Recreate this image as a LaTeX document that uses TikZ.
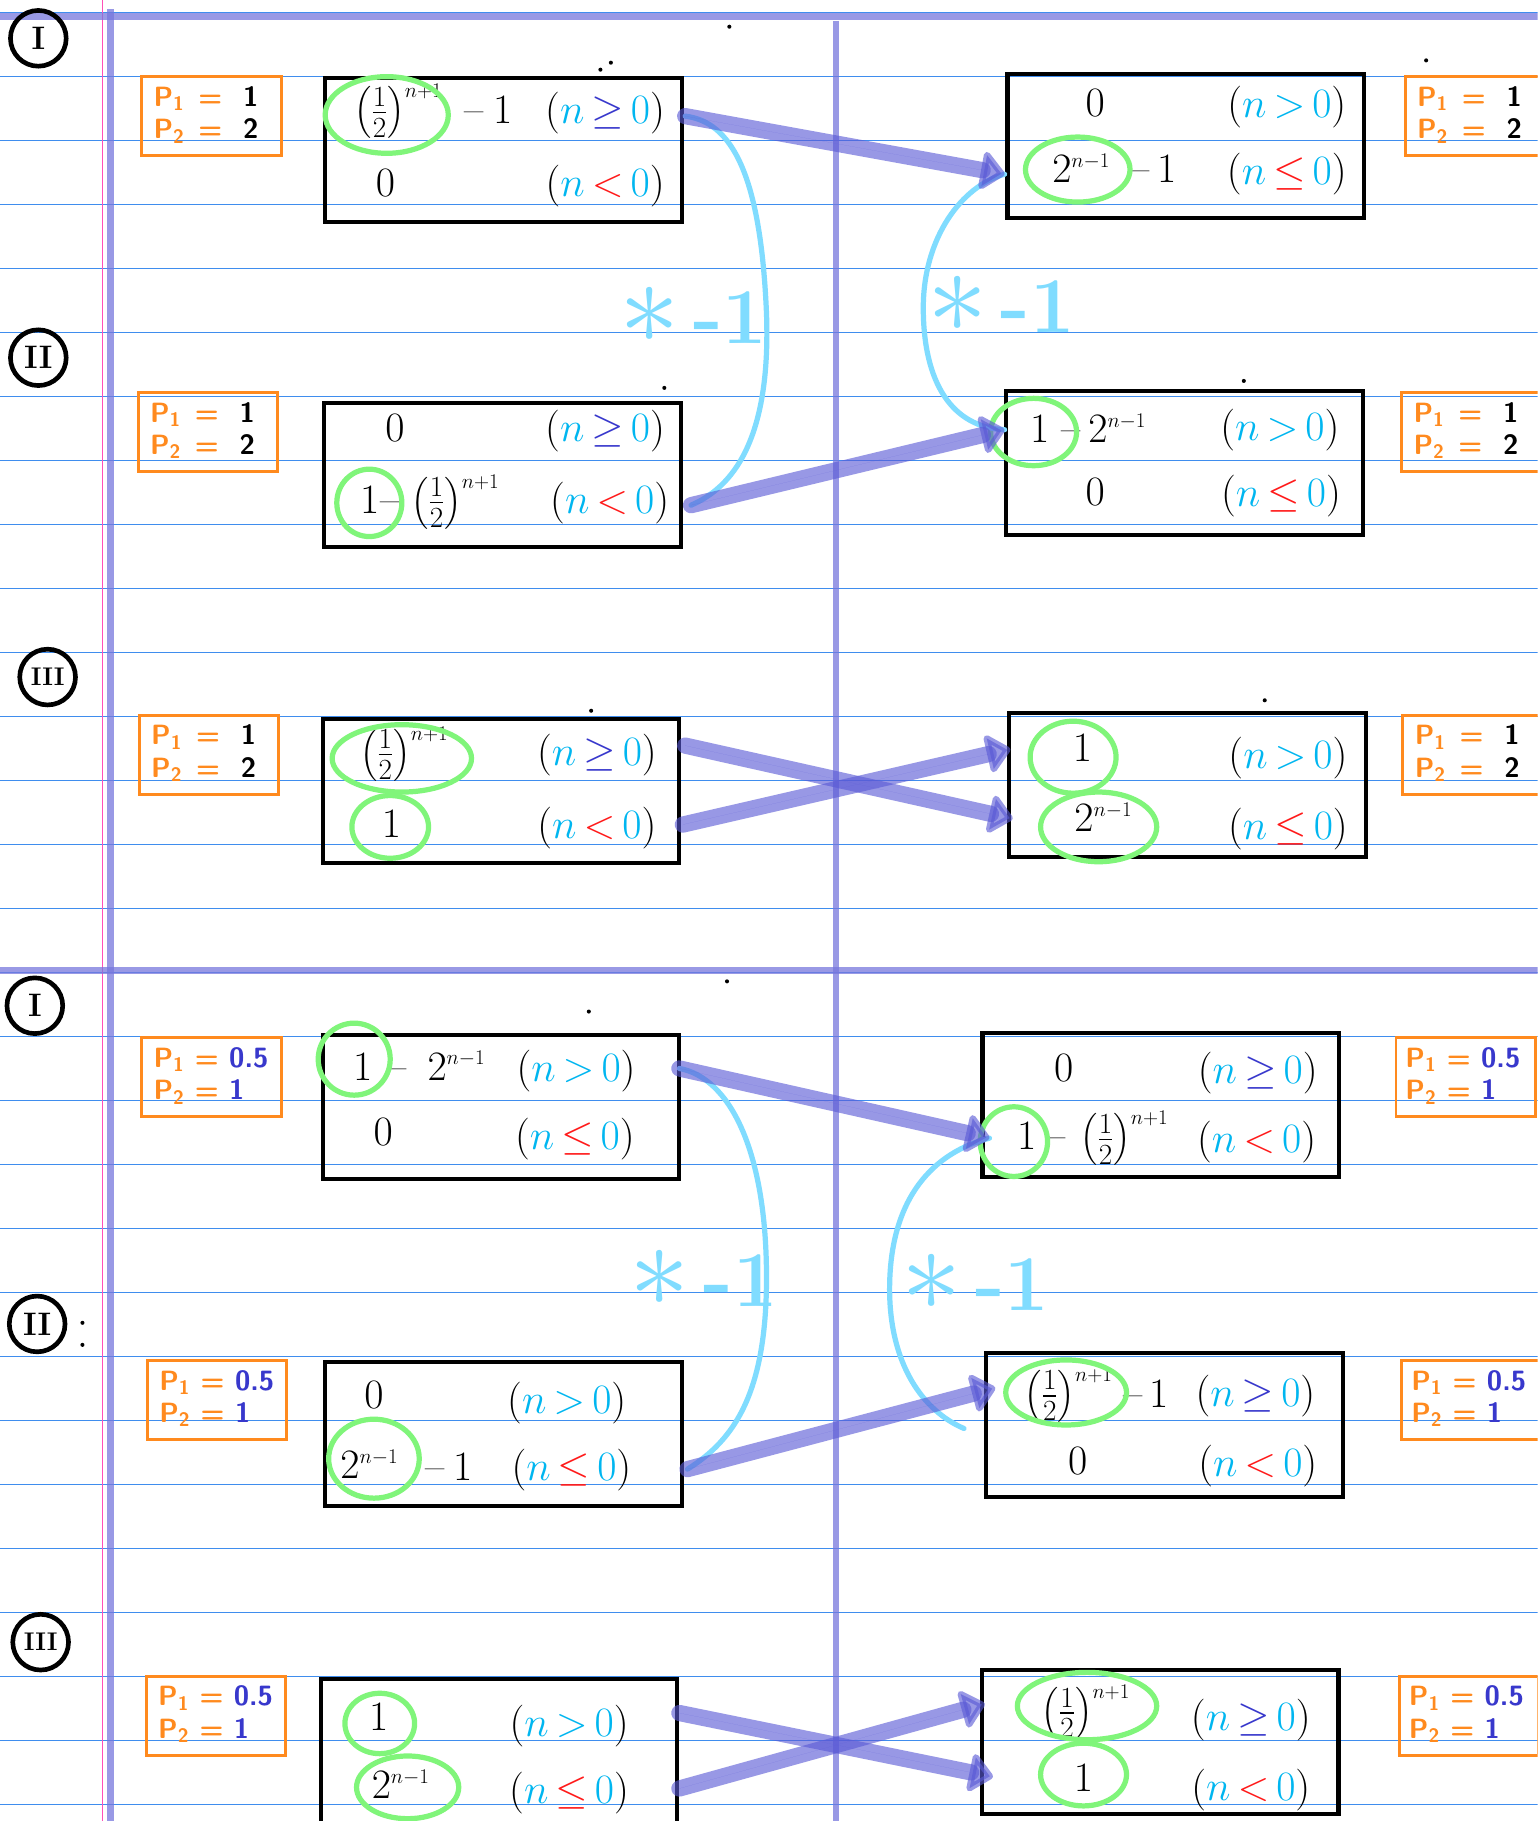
\RequirePackage{fix-cm}
\documentclass[tikz,border=0pt]{standalone}
\usepackage{amsmath}
\usepackage{fontspec}
\usetikzlibrary{arrows.meta}
\definecolor{rulec}{HTML}{3F8DEE}
\definecolor{margc}{HTML}{7777DD}
\definecolor{pinkc}{HTML}{FF4FB8}
\definecolor{org}{HTML}{FF8A1E}
\definecolor{grn}{HTML}{80F57A}
\definecolor{cyn}{HTML}{00B6F0}
\definecolor{lcyn}{HTML}{80DCFF}
\definecolor{dblue}{HTML}{3838CC}
\definecolor{redc}{HTML}{FF1A1A}
\definecolor{arrc}{HTML}{5A5AD6}
\newcommand{\Half}{$\bigl(\tfrac{1}{2}\bigr)^{\scriptscriptstyle n+1}$}
\newcommand{\Tpow}{$2^{\scriptscriptstyle n-1}$}
\newcommand{\CondGE}{$\thickmuskip=3mu\relax(\textcolor{cyn}{n}\mathrel{\textcolor{dblue}{\geq}}\textcolor{cyn}{0})$}
\newcommand{\CondGT}{$\thickmuskip=3mu\relax(\textcolor{cyn}{n}\mathrel{\textcolor{cyn}{>}}\textcolor{cyn}{0})$}
\newcommand{\CondLT}{$\thickmuskip=3mu\relax(\textcolor{cyn}{n}\mathrel{\textcolor{redc}{<}}\textcolor{cyn}{0})$}
\newcommand{\CondLE}{$\thickmuskip=3mu\relax(\textcolor{cyn}{n}\mathrel{\textcolor{redc}{\leq}}\textcolor{cyn}{0})$}
\newcommand{\Pq}[1]{P\textsubscript{#1}}
\newcommand{\PTop}[2]{\begin{tabular}{@{}l@{\hspace{12pt}}c@{\hspace{18pt}}l@{}}\Pq{1}&=&\textcolor{black}{#1}\\[1pt]\Pq{2}&=&\textcolor{black}{#2}\end{tabular}}
\newcommand{\PBot}[2]{\begin{tabular}{@{}l@{\hspace{9pt}}c@{\hspace{9pt}}l@{}}\Pq{1}&=&\textcolor{dblue}{#1}\\[1pt]\Pq{2}&=&\textcolor{dblue}{#2}\end{tabular}}
\newcommand{\StarLbl}{{\fontsize{104}{104}\selectfont$\ast$}\,-1}
\begin{document}
\begin{tikzpicture}[x=1pt,y=-1pt,
  blk/.style={draw=black, line width=3.5pt, rectangle, inner sep=0pt, outer sep=0pt, minimum width=307pt, minimum height=124pt},
  obox/.style={draw=org, line width=2.5pt, rectangle, inner sep=0pt, minimum width=120pt, minimum height=68pt},
  otext/.style={text=org, font=\fontsize{24}{27}\selectfont\sffamily\bfseries, anchor=west, inner sep=0pt},
  row/.style={font=\fontsize{36}{40}\selectfont, inner sep=0pt, text height=26pt, text depth=8pt},
  grnc/.style={draw=grn, line width=4.5pt},
  bigarr/.style={draw=arrc, fill=arrc, opacity=.62, line width=14pt, line cap=round, -{Triangle[round,length=22pt,width=38pt]}},
  cyc/.style={draw=lcyn, line width=4.5pt, line cap=round},
  starlbl/.style={text=lcyn, font=\fontsize{68}{70}\selectfont\bfseries, inner sep=0pt},
  rom/.style={circle, draw=black, line width=4pt, minimum size=48pt, inner sep=0pt, font=\fontsize{28}{28}\selectfont\bfseries},
  dotc/.style={circle, fill=black, inner sep=0pt, minimum size=3.5pt}]
\useasboundingbox (0,0) rectangle (1324,1568);
\clip (0,0) rectangle (1324,1568);
\fill[white] (0,0) rectangle (1324,1568);
% ruled paper
\draw[rulec, line width=1.2pt] (0,11) -- (1324,11);
\foreach \i in {0,...,27} {\draw[rulec, line width=1.2pt] (0,{66+55.1*\i}) -- (1324,{66+55.1*\i});}
\draw[pinkc, line width=1pt] (88,0) -- (88,1568);
\draw[margc, opacity=.75, line width=6pt] (0,14) -- (1324,14);
\draw[margc, opacity=.75, line width=6pt] (0,836) -- (1324,836);
\draw[margc, opacity=.75, line width=6pt] (95,8) -- (95,1568);
\draw[margc, opacity=.75, line width=5pt] (720,18) -- (720,1568);
% roman numerals
\node[rom] (rI1) at (33,33) {I};
\node[rom] (rII1) at (33,308) {II};
\node[rom, font=\fontsize{22}{22}\selectfont\bfseries] (rIII1) at (41,583) {III};
\node[rom] (rI2) at (30,866) {I};
\node[rom] (rII2) at (32,1140) {II};
\node[rom, font=\fontsize{22}{22}\selectfont\bfseries] (rIII2) at (35,1414) {III};
% stray dots
\node[dotc] (d1) at (628,23) {};
\node[dotc] (d2) at (517,60) {};
\node[dotc] (d3) at (526,54) {};
\node[dotc] (d4) at (1228,52) {};
\node[dotc] (d5) at (572,334) {};
\node[dotc] (d6) at (1071,328) {};
\node[dotc] (d7) at (509,612) {};
\node[dotc] (d8) at (1089,603) {};
\node[dotc] (d9) at (626,845) {};
\node[dotc] (d10) at (507,871) {};
\node[dotc] (d11) at (71,1139) {};
\node[dotc] (d12) at (71,1158) {};
% orange parameter boxes
\node[obox] (oL1) at (182,100) {};
\node[otext] (tL1) at (132,100) {\PTop{1}{2}};
\node[obox] (oR1) at (1270,100) {};
\node[otext] (tR1) at (1220,100) {\PTop{1}{2}};
\node[obox] (oL2) at (179,372) {};
\node[otext] (tL2) at (129,372) {\PTop{1}{2}};
\node[obox] (oR2) at (1267,372) {};
\node[otext] (tR2) at (1217,372) {\PTop{1}{2}};
\node[obox] (oL3) at (180,650) {};
\node[otext] (tL3) at (130,650) {\PTop{1}{2}};
\node[obox] (oR3) at (1268,650) {};
\node[otext] (tR3) at (1218,650) {\PTop{1}{2}};
\node[obox] (oL4) at (182,927.5) {};
\node[otext] (tL4) at (132,927.5) {\PBot{0.5}{1}};
\node[obox] (oR4) at (1262,927.5) {};
\node[otext] (tR4) at (1210,927.5) {\PBot{0.5}{1}};
\node[obox] (oL5) at (187,1205.5) {};
\node[otext] (tL5) at (137,1205.5) {\PBot{0.5}{1}};
\node[obox] (oR5) at (1267,1205.5) {};
\node[otext] (tR5) at (1215,1205.5) {\PBot{0.5}{1}};
\node[obox] (oL6) at (186,1477.5) {};
\node[otext] (tL6) at (136,1477.5) {\PBot{0.5}{1}};
\node[obox] (oR6) at (1265,1477.5) {};
\node[otext] (tR6) at (1213,1477.5) {\PBot{0.5}{1}};
% black boxes
\node[blk] (L1) at (433.5,129) {};
\node[blk] (R1) at (1021,126) {};
\node[blk] (L2) at (432.5,409) {};
\node[blk] (R2) at (1020,399) {};
\node[blk] (L3) at (431.5,681) {};
\node[blk] (R3) at (1022.5,676) {};
\node[blk] (L4) at (431.5,953) {};
\node[blk] (R4) at (999.5,951.5) {};
\node[blk] (L5) at (433.5,1235) {};
\node[blk] (R5) at (1002.5,1227) {};
\node[blk] (L6) at (429.5,1508) {};
\node[blk] (R6) at (999,1500) {};
% ---- rows: box L1
\node[row] (L1a) at (343,97) {\Half};
\node[row] (L1m) at (408,97) {\textendash};
\node[row] (L1o) at (433,97) {1};
\node[row] (L1b) at (521,97) {\CondGE};
\node[row] (L1c) at (332,160) {$0$};
\node[row] (L1d) at (521,160) {\CondLT};
% box R1
\node[row] (R1a) at (943,91) {$0$};
\node[row] (R1b) at (1108,92) {\CondGT};
\node[row] (R1c) at (931,148) {\Tpow};
\node[row] (R1m) at (982,148) {\textendash};
\node[row] (R1o) at (1005,148) {1};
\node[row] (R1d) at (1108,150) {\CondLE};
% box L2
\node[row] (L2a) at (340,371) {$0$};
\node[row] (L2b) at (521,371) {\CondGE};
\node[row] (L2o) at (319,433) {1};
\node[row] (L2m) at (336,433) {\textendash};
\node[row] (L2c) at (392,433) {\Half};
\node[row] (L2d) at (525,433) {\CondLT};
% box R2
\node[row] (R2o) at (896,372) {1};
\node[row] (R2m) at (922,372) {\textendash};
\node[row] (R2a) at (962,372) {\Tpow};
\node[row] (R2b) at (1102,370) {\CondGT};
\node[row] (R2c) at (943,426) {$0$};
\node[row] (R2d) at (1103,427) {\CondLE};
% box L3
\node[row] (L3a) at (348,650) {\Half};
\node[row] (L3b) at (514,650) {\CondGE};
\node[row] (L3c) at (337,712) {$1$};
\node[row] (L3d) at (514,713) {\CondLT};
% box R3
\node[row] (R3a) at (932,647) {$1$};
\node[row] (R3b) at (1109,653) {\CondGT};
\node[row] (R3c) at (950,707) {\Tpow};
\node[row] (R3d) at (1109,714) {\CondLE};
% box L4
\node[row] (L4o) at (313,921) {1};
\node[row] (L4m) at (342,921) {\textendash};
\node[row] (L4a) at (393,921) {\Tpow};
\node[row] (L4b) at (496,922) {\CondGT};
\node[row] (L4c) at (330,977) {$0$};
\node[row] (L4d) at (495,981) {\CondLE};
% box R4
\node[row] (R4a) at (916,922) {$0$};
\node[row] (R4b) at (1083,924) {\CondGE};
\node[row] (R4o) at (884,981) {1};
\node[row] (R4m) at (909,981) {\textendash};
\node[row] (R4c) at (968,981) {\Half};
\node[row] (R4d) at (1082,983) {\CondLT};
% box L5
\node[row] (L5a) at (322,1204) {$0$};
\node[row] (L5b) at (488,1208) {\CondGT};
\node[row] (L5c) at (318,1264) {\Tpow};
\node[row] (L5m) at (375,1266) {\textendash};
\node[row] (L5o) at (399,1266) {1};
\node[row] (L5d) at (492,1266) {\CondLE};
% box R5
\node[row] (R5a) at (920,1202) {\Half};
\node[row] (R5m) at (976,1203) {\textendash};
\node[row] (R5o) at (998,1203) {1};
\node[row] (R5b) at (1081,1202) {\CondGE};
\node[row] (R5c) at (928,1261) {$0$};
\node[row] (R5d) at (1083,1262) {\CondLT};
% box L6
\node[row] (L6a) at (326,1481) {$1$};
\node[row] (L6b) at (490,1486) {\CondGT};
\node[row] (L6c) at (345,1540) {\Tpow};
\node[row] (L6d) at (490,1544) {\CondLE};
% box R6
\node[row] (R6a) at (935,1475) {\Half};
\node[row] (R6b) at (1077,1481) {\CondGE};
\node[row] (R6c) at (933,1534) {$1$};
\node[row] (R6d) at (1077,1541) {\CondLT};
% green marks
\draw[grnc] (333,99) ellipse [x radius=53, y radius=33];
\draw[grnc] (928,146) ellipse [x radius=45, y radius=28];
\draw[grnc] (318,433) ellipse [x radius=28, y radius=29];
\draw[grnc] (890,372) ellipse [x radius=37, y radius=29];
\draw[grnc] (346,653) ellipse [x radius=60, y radius=29];
\draw[grnc] (336,712) ellipse [x radius=33, y radius=27];
\draw[grnc] (924,652) ellipse [x radius=37, y radius=31];
\draw[grnc] (946,712) ellipse [x radius=50, y radius=30];
\draw[grnc] (305,912) ellipse [x radius=31, y radius=31];
\draw[grnc] (873,983) ellipse [x radius=29, y radius=30];
\draw[grnc] (322,1256) ellipse [x radius=39, y radius=34];
\draw[grnc] (918,1199) ellipse [x radius=52, y radius=28];
\draw[grnc] (327,1484) ellipse [x radius=30, y radius=26];
\draw[grnc] (351,1539) ellipse [x radius=44, y radius=27];
\draw[grnc] (936,1469) ellipse [x radius=60, y radius=29];
\draw[grnc] (933,1528) ellipse [x radius=37, y radius=27];
% connector end points
\coordinate (a1s) at (590,100);  \coordinate (a1e) at (865,150);
\coordinate (a2s) at (595,435);  \coordinate (a2e) at (865,370);
\coordinate (a3s) at (590,642);  \coordinate (a3e) at (872,705);
\coordinate (a4s) at (588,710);  \coordinate (a4e) at (870,645);
\coordinate (a5s) at (585,920);  \coordinate (a5e) at (852,980);
\coordinate (a6s) at (592,1265); \coordinate (a6e) at (857,1195);
\coordinate (a7s) at (585,1475); \coordinate (a7e) at (855,1530);
\coordinate (a8s) at (585,1540); \coordinate (a8e) at (848,1467);
% light blue "*-1" curves
\draw[cyc] (a1s) .. controls (630,105) and (655,150) .. (660,270) .. controls (664,380) and (630,420) .. (a2s);
\draw[cyc] (a1e) .. controls (828,160) and (795,205) .. (795,265) .. controls (795,330) and (820,368) .. (a2e);
\draw[cyc] (a5s) .. controls (628,928) and (660,990) .. (660,1100) .. controls (660,1200) and (632,1240) .. (a6s);
\coordinate (c4e) at (830,1230);
\draw[cyc] (a5e) .. controls (805,992) and (766,1030) .. (766,1110) .. controls (766,1175) and (795,1215) .. (c4e);
\node[starlbl] (s1) at (597,272) {\StarLbl};
\node[starlbl] (s2) at (862,262) {\StarLbl};
\node[starlbl] (s3) at (606,1101) {\StarLbl};
\node[starlbl] (s4) at (840,1104) {\StarLbl};
% thick arrows
\draw[bigarr] (a1s) -- (a1e);
\draw[bigarr] (a2s) -- (a2e);
\draw[bigarr] (a3s) -- (a3e);
\draw[bigarr] (a4s) -- (a4e);
\draw[bigarr] (a5s) -- (a5e);
\draw[bigarr] (a6s) -- (a6e);
\draw[bigarr] (a7s) -- (a7e);
\draw[bigarr] (a8s) -- (a8e);
\end{tikzpicture}
\end{document}
